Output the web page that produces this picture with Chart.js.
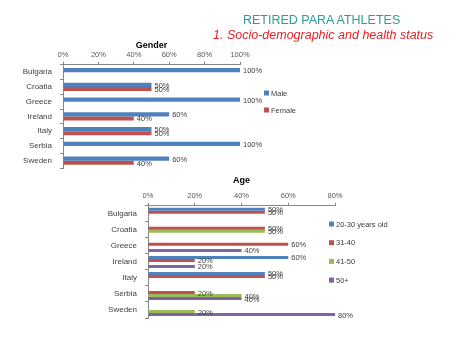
<!DOCTYPE html>
<html>
<head>
<meta charset="utf-8">
<script src="https://cdn.jsdelivr.net/npm/chart.js@4"></script>
<style>
    body { margin: 0; background: #fff; font-family: "Liberation Sans", Arial, sans-serif; }
    #wrap { position: relative; width: 460px; height: 345px; overflow: hidden; }
    canvas { position: absolute; left: 0; top: 0; }
    .t1 { position: absolute; left: 243px; top: 13px; font-size: 12.5px; line-height: 15px; color: #2F9C95; white-space: nowrap; }
    .t2 { position: absolute; left: 213px; top: 28px; font-size: 12.5px; line-height: 15px; color: #E2232A; font-style: italic; white-space: nowrap; }
</style>
</head>
<body>
<div id="wrap">
    <canvas id="genderChart" width="460" height="345"></canvas>
    <canvas id="ageChart" width="460" height="345"></canvas>
    <div class="t1">RETIRED PARA ATHLETES</div>
    <div class="t2">1. Socio-demographic and health status</div>
</div>
<script>
    // Data
    const countries = ['Bulgaria', 'Croatia', 'Greece', 'Ireland', 'Italy', 'Serbia', 'Sweden'];

    const male = [100, 50, 100, 60, 50, 100, 60];
    const female = [0, 50, 0, 40, 50, 0, 40];
    const genderTicks = ['0%', '20%', '40%', '60%', '80%', '100%'];

    const age20to30 = [50, 0, 0, 60, 50, 0, 0];
    const age31to40 = [50, 50, 60, 20, 50, 20, 0];
    const age41to50 = [0, 50, 0, 0, 0, 40, 20];
    const age50plus = [0, 0, 40, 20, 0, 40, 80];
    const ageTicks = ['0%', '20%', '40%', '60%', '80%'];

    const FONT = '"Liberation Sans", Arial, sans-serif';
    Chart.defaults.font.family = FONT;
    Chart.defaults.color = '#595959';

    // value labels to the right of each bar
    const valueLabels = {
        id: 'valueLabels',
        afterDatasetsDraw(chart) {
            const ctx = chart.ctx;
            ctx.save();
            ctx.font = '7.5px ' + FONT;
            ctx.fillStyle = '#404040';
            ctx.textBaseline = 'middle';
            chart.data.datasets.forEach((ds, i) => {
                chart.getDatasetMeta(i).data.forEach((bar, j) => {
                    const v = ds.data[j];
                    if (!v) return;
                    ctx.fillText(v + '%', bar.x + 3, bar.y + 1);
                });
            });
            ctx.restore();
        }
    };

    // simple legend drawn beside the plot
    const sideLegend = {
        id: 'sideLegend',
        afterDraw(chart, args, opts) {
            const ctx = chart.ctx;
            ctx.save();
            ctx.font = '7.5px ' + FONT;
            ctx.textBaseline = 'middle';
            chart.data.datasets.forEach((ds, i) => {
                const y = opts.y + i * opts.step;
                ctx.fillStyle = ds.backgroundColor;
                ctx.fillRect(opts.x, y - 2.5, 5, 5);
                ctx.fillStyle = '#404040';
                ctx.fillText(ds.label, opts.x + 7, y + 0.5);
            });
            ctx.restore();
        }
    };

    function scalesFor(ticks, max, axisHeight) {
        return {
            x: {
                position: 'top',
                min: 0,
                max: max,
                ticks: {
                    stepSize: 20,
                    padding: 2,
                    font: { size: 7.5 },
                    callback: (v, i) => ticks[i]
                },
                grid: { drawOnChartArea: false, color: '#868686', tickLength: 3 },
                border: { color: '#868686' },
                afterFit: s => { s.height = axisHeight; }
            },
            y: {
                ticks: { padding: 8, color: '#404040', font: { size: 8 } },
                grid: { offset: true, drawOnChartArea: false, color: '#868686', tickLength: 3 },
                border: { color: '#868686' },
                afterFit: s => { s.width = 63; }
            }
        };
    }

    function dataset(label, data, color, groupShare) {
        return {
            label: label,
            data: data,
            backgroundColor: color,
            categoryPercentage: groupShare,
            barPercentage: 1
        };
    }

    function titleFor(text, padBottom) {
        return {
            display: true,
            text: text,
            fullSize: false,
            color: '#000',
            font: { size: 9, weight: 'bold' },
            padding: { top: 0, bottom: padBottom }
        };
    }

    // Gender chart
    new Chart(document.getElementById('genderChart'), {
        type: 'bar',
        data: {
            labels: countries,
            datasets: [
                dataset('Male', male, '#4F81BD', 0.55),
                dataset('Female', female, '#C0504D', 0.55)
            ]
        },
        options: {
            indexAxis: 'y',
            responsive: false,
            animation: false,
            layout: { padding: { left: 0, right: 220, top: 40, bottom: 177 } },
            plugins: {
                legend: { display: false },
                tooltip: { enabled: false },
                title: titleFor('Gender', 0),
                sideLegend: { x: 264, y: 93, step: 17 }
            },
            scales: scalesFor(genderTicks, 100, 14)
        },
        plugins: [valueLabels, sideLegend]
    });

    // Age chart
    new Chart(document.getElementById('ageChart'), {
        type: 'bar',
        data: {
            labels: countries,
            datasets: [
                dataset('20-30 years old', age20to30, '#4F81BD', 0.75),
                dataset('31-40', age31to40, '#C0504D', 0.75),
                dataset('41-50', age41to50, '#9BBB59', 0.75),
                dataset('50+', age50plus, '#8064A2', 0.75)
            ]
        },
        options: {
            indexAxis: 'y',
            responsive: false,
            animation: false,
            layout: { padding: { left: 85, right: 125, top: 175, bottom: 27 } },
            plugins: {
                legend: { display: false },
                tooltip: { enabled: false },
                title: titleFor('Age', 4),
                sideLegend: { x: 329, y: 224, step: 18.7 }
            },
            scales: scalesFor(ageTicks, 80, 16)
        },
        plugins: [valueLabels, sideLegend]
    });
</script>
</body>
</html>
